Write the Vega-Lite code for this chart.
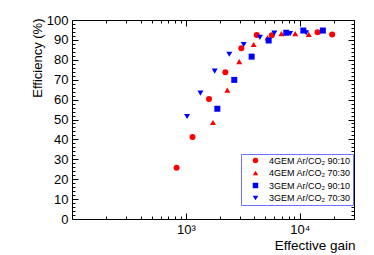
{
  "$schema": "https://vega.github.io/schema/vega-lite/v6.json",
  "autosize": "none",
  "width": 282,
  "height": 199,
  "padding": {"left": 72, "top": 20, "right": 20, "bottom": 36},
  "background": "white",
  "config": {
    "font": "Liberation Sans",
    "view": {"stroke": "black", "strokeWidth": 1},
    "axis": {"grid": false, "domain": false, "tickColor": "black", "labelColor": "black", "titleColor": "black", "labelFont": "Liberation Sans", "titleFont": "Liberation Sans", "titleFontWeight": "normal", "labelOverlap": false, "labelFlush": false, "labelBound": false}
  },
  "data": {"values": [
    {"series": "4GEM Ar/CO₂ 90:10", "gain": 829, "eff": 25.7},
    {"series": "4GEM Ar/CO₂ 90:10", "gain": 1144, "eff": 41.2},
    {"series": "4GEM Ar/CO₂ 90:10", "gain": 1598, "eff": 60.3},
    {"series": "4GEM Ar/CO₂ 90:10", "gain": 2222, "eff": 73.8},
    {"series": "4GEM Ar/CO₂ 90:10", "gain": 3072, "eff": 85.8},
    {"series": "4GEM Ar/CO₂ 90:10", "gain": 4195, "eff": 92.5},
    {"series": "4GEM Ar/CO₂ 90:10", "gain": 5693, "eff": 92.3},
    {"series": "4GEM Ar/CO₂ 90:10", "gain": 14360, "eff": 93.9},
    {"series": "4GEM Ar/CO₂ 90:10", "gain": 19300, "eff": 92.7},
    {"series": "4GEM Ar/CO₂ 70:30", "gain": 1731, "eff": 48.5},
    {"series": "4GEM Ar/CO₂ 70:30", "gain": 2313, "eff": 64.8},
    {"series": "4GEM Ar/CO₂ 70:30", "gain": 2944, "eff": 79.1},
    {"series": "4GEM Ar/CO₂ 70:30", "gain": 3941, "eff": 87.7},
    {"series": "4GEM Ar/CO₂ 70:30", "gain": 5223, "eff": 91.0},
    {"series": "4GEM Ar/CO₂ 70:30", "gain": 6908, "eff": 93.2},
    {"series": "4GEM Ar/CO₂ 70:30", "gain": 9135, "eff": 93.2},
    {"series": "4GEM Ar/CO₂ 70:30", "gain": 12010, "eff": 92.8},
    {"series": "3GEM Ar/CO₂ 90:10", "gain": 1891, "eff": 55.4},
    {"series": "3GEM Ar/CO₂ 90:10", "gain": 2663, "eff": 69.9},
    {"series": "3GEM Ar/CO₂ 90:10", "gain": 3786, "eff": 81.6},
    {"series": "3GEM Ar/CO₂ 90:10", "gain": 5340, "eff": 89.7},
    {"series": "3GEM Ar/CO₂ 90:10", "gain": 7624, "eff": 93.6},
    {"series": "3GEM Ar/CO₂ 90:10", "gain": 10770, "eff": 94.7},
    {"series": "3GEM Ar/CO₂ 90:10", "gain": 15980, "eff": 94.7},
    {"series": "3GEM Ar/CO₂ 70:30", "gain": 1026, "eff": 51.5},
    {"series": "3GEM Ar/CO₂ 70:30", "gain": 1344, "eff": 63.3},
    {"series": "3GEM Ar/CO₂ 70:30", "gain": 1792, "eff": 74.3},
    {"series": "3GEM Ar/CO₂ 70:30", "gain": 2408, "eff": 82.8},
    {"series": "3GEM Ar/CO₂ 70:30", "gain": 3224, "eff": 87.7},
    {"series": "3GEM Ar/CO₂ 70:30", "gain": 4474, "eff": 91.3},
    {"series": "3GEM Ar/CO₂ 70:30", "gain": 5988, "eff": 93.4},
    {"series": "3GEM Ar/CO₂ 70:30", "gain": 8245, "eff": 93.2},
    {"series": "3GEM Ar/CO₂ 70:30", "gain": 11400, "eff": 93.6}
  ]},
  "resolve": {"axis": {"x": "independent", "y": "independent"}},
  "layer": [
    {
      "mark": {"type": "point", "filled": true, "opacity": 1, "size": 36},
      "encoding": {
        "x": {"field": "gain", "type": "quantitative",
          "scale": {"type": "log", "domain": [100, 30000], "nice": false},
          "axis": {"orient": "bottom", "title": "Effective gain", "titleFontSize": 13.5, "titleFontWeight": "normal", "titleAnchor": "end", "titleAlign": "right", "titleX": 283, "titleY": 30, "titleBaseline": "alphabetic",
            "values": [200,300,400,500,600,700,800,900,1000,2000,3000,4000,5000,6000,7000,8000,9000,10000,20000],
            "labelExpr": "datum.value == 1000 ? '10³' : (datum.value == 10000 ? '10⁴' : '')",
            "labelFontSize": 13, "labelPadding": 10,
            "tickSize": {"condition": {"test": "datum.value == 1000 || datum.value == 10000", "value": -6}, "value": -3}}},
        "y": {"field": "eff", "type": "quantitative",
          "scale": {"domain": [0, 100], "nice": false},
          "axis": {"orient": "left", "title": "Efficiency (%)", "titleFontSize": 13, "titleFontWeight": "normal", "titleAngle": -90, "titleAlign": "right", "titleAnchor": "end", "titleX": -31, "titleY": -2, "titleBaseline": "alphabetic",
            "values": [0,2,4,6,8,10,12,14,16,18,20,22,24,26,28,30,32,34,36,38,40,42,44,46,48,50,52,54,56,58,60,62,64,66,68,70,72,74,76,78,80,82,84,86,88,90,92,94,96,98,100],
            "labelExpr": "datum.value % 10 == 0 ? datum.label : ''",
            "labelFontSize": 13, "labelPadding": 10,
            "tickSize": {"condition": {"test": "datum.value % 10 == 0", "value": -6}, "value": -3}}},
        "color": {"field": "series", "type": "nominal",
          "scale": {"domain": ["4GEM Ar/CO₂ 90:10", "4GEM Ar/CO₂ 70:30", "3GEM Ar/CO₂ 90:10", "3GEM Ar/CO₂ 70:30"], "range": ["#ff0000", "#ff0000", "#0000ff", "#0000ff"]},
          "legend": {"orient": "none", "legendX": 169, "legendY": 134, "title": null, "labelFontSize": 9, "labelFont": "Liberation Sans", "labelColor": "black", "padding": 2, "symbolOffset": 8, "labelOffset": 9, "rowPadding": 2.5, "symbolSize": 30, "symbolStrokeWidth": 0, "strokeColor": "#7070ff", "fillColor": "white", "cornerRadius": 0}},
        "shape": {"field": "series", "type": "nominal",
          "scale": {"domain": ["4GEM Ar/CO₂ 90:10", "4GEM Ar/CO₂ 70:30", "3GEM Ar/CO₂ 90:10", "3GEM Ar/CO₂ 70:30"], "range": ["circle", "triangle-up", "square", "triangle-down"]},
          "legend": {"orient": "none", "legendX": 169, "legendY": 134, "title": null, "labelFontSize": 9, "labelFont": "Liberation Sans", "labelColor": "black", "padding": 2, "symbolOffset": 8, "labelOffset": 9, "rowPadding": 2.5, "symbolSize": 30, "symbolStrokeWidth": 0, "strokeColor": "#7070ff", "fillColor": "white", "cornerRadius": 0}}
      }
    },
    {
      "mark": {"type": "point", "opacity": 0},
      "encoding": {
        "x": {"field": "gain", "type": "quantitative",
          "axis": {"orient": "top", "title": null, "labels": false,
            "values": [200,300,400,500,600,700,800,900,1000,2000,3000,4000,5000,6000,7000,8000,9000,10000,20000],
            "tickSize": {"condition": {"test": "datum.value == 1000 || datum.value == 10000", "value": -6}, "value": -3}}},
        "y": {"field": "eff", "type": "quantitative",
          "axis": {"orient": "right", "title": null, "labels": false,
            "values": [0,2,4,6,8,10,12,14,16,18,20,22,24,26,28,30,32,34,36,38,40,42,44,46,48,50,52,54,56,58,60,62,64,66,68,70,72,74,76,78,80,82,84,86,88,90,92,94,96,98,100],
            "tickSize": {"condition": {"test": "datum.value % 10 == 0", "value": -6}, "value": -3}}}
      }
    }
  ]
}
